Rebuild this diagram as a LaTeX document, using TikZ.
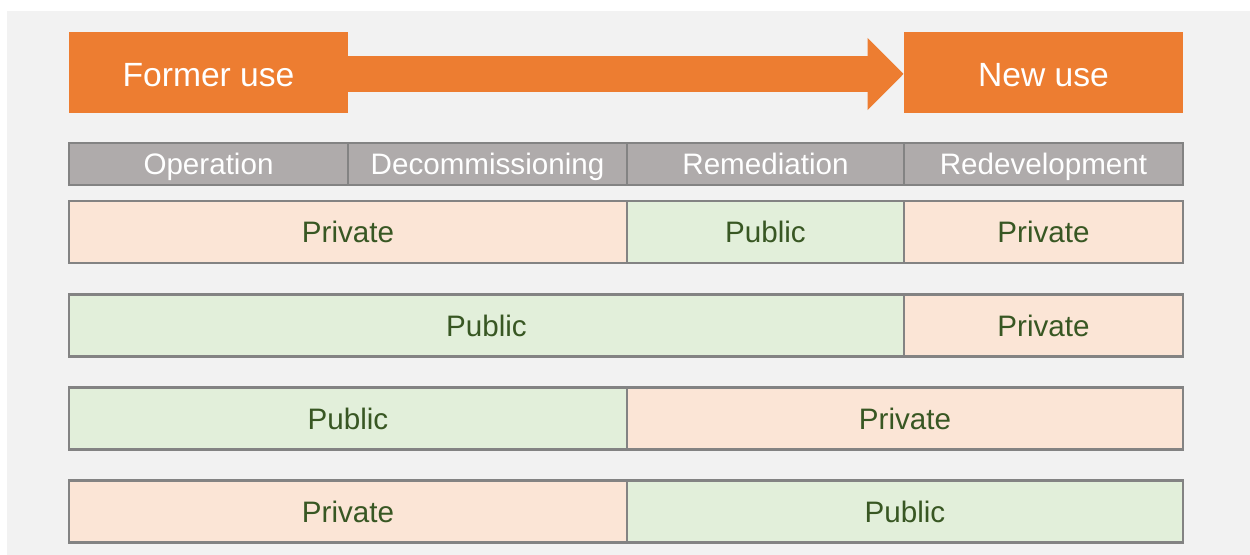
\documentclass[tikz,border=0pt]{standalone}
\usepackage{fontspec}
\setmainfont{Liberation Sans}
\usetikzlibrary{arrows.meta}

\definecolor{useorange}{HTML}{ED7D31}
\definecolor{bggray}{HTML}{F2F2F2}
\definecolor{phasegray}{HTML}{AFABAB}
\definecolor{cellline}{HTML}{838383}
\definecolor{privfill}{HTML}{FBE5D6}
\definecolor{pubfill}{HTML}{E2EFDA}
\definecolor{cellText}{HTML}{385723}

\tikzset{
    usebox/.style={fill=useorange,text=white,inner sep=0pt,
        minimum width=139.5pt,minimum height=40.5pt,
        text height=14.5pt,text depth=0pt,
        font=\fontsize{16.8}{20}\selectfont},
    phase/.style={draw=cellline,fill=phasegray,text=white,line width=1.25pt,
        inner sep=0pt,minimum height=21pt,
        text height=10.6pt,text depth=0pt,
        font=\fontsize{14.8}{18}\selectfont},
    owner/.style={draw=cellline,text=cellText,line width=1.25pt,
        inner sep=0pt,minimum height=31pt,
        text height=10.6pt,text depth=0pt,
        font=\fontsize{14.8}{18}\selectfont},
    private/.style={owner,fill=privfill},
    public/.style={owner,fill=pubfill}
}

\begin{document}
\begin{tikzpicture}[x=0.5pt,y=-0.5pt]
    \useasboundingbox (0,0) rectangle (1250,555);
    \fill[bggray] (7,11) rectangle (1250,555);

    % former and new use
    \node[usebox] (former) at (208.5,72.5) {Former use};
    \node[usebox] (new) at (1043.5,72.5) {New use};
    \draw[useorange,line width=18pt,-{Triangle[length=18pt,width=35pt]}]
        ([yshift=-0.75pt]former.east) -- ([yshift=-0.75pt]new.west);

    % phases
    \node[phase,minimum width=139.5pt] (oper) at (208.5,164) {Operation};
    \node[phase,minimum width=139.5pt] (decom) at (487.5,164) {Decommissioning};
    \node[phase,minimum width=138.5pt] (remed) at (765.5,164) {Remediation};
    \node[phase,minimum width=139.5pt] (redev) at (1043.5,164) {Redevelopment};

    % who pays, one row per option
    \node[private,minimum width=279pt] (a1) at (348,232) {Private};
    \node[public,minimum width=138.5pt] (a2) at (765.5,232) {Public};
    \node[private,minimum width=139.5pt] (a3) at (1043.5,232) {Private};

    \node[public,minimum width=417.5pt] (b1) at (486.5,325.5) {Public};
    \node[private,minimum width=139.5pt] (b2) at (1043.5,325.5) {Private};

    \node[public,minimum width=279pt] (c1) at (348,418.5) {Public};
    \node[private,minimum width=278pt] (c2) at (905,418.5) {Private};

    \node[private,minimum width=279pt] (d1) at (348,511.5) {Private};
    \node[public,minimum width=278pt] (d2) at (905,511.5) {Public};
\end{tikzpicture}
\end{document}
